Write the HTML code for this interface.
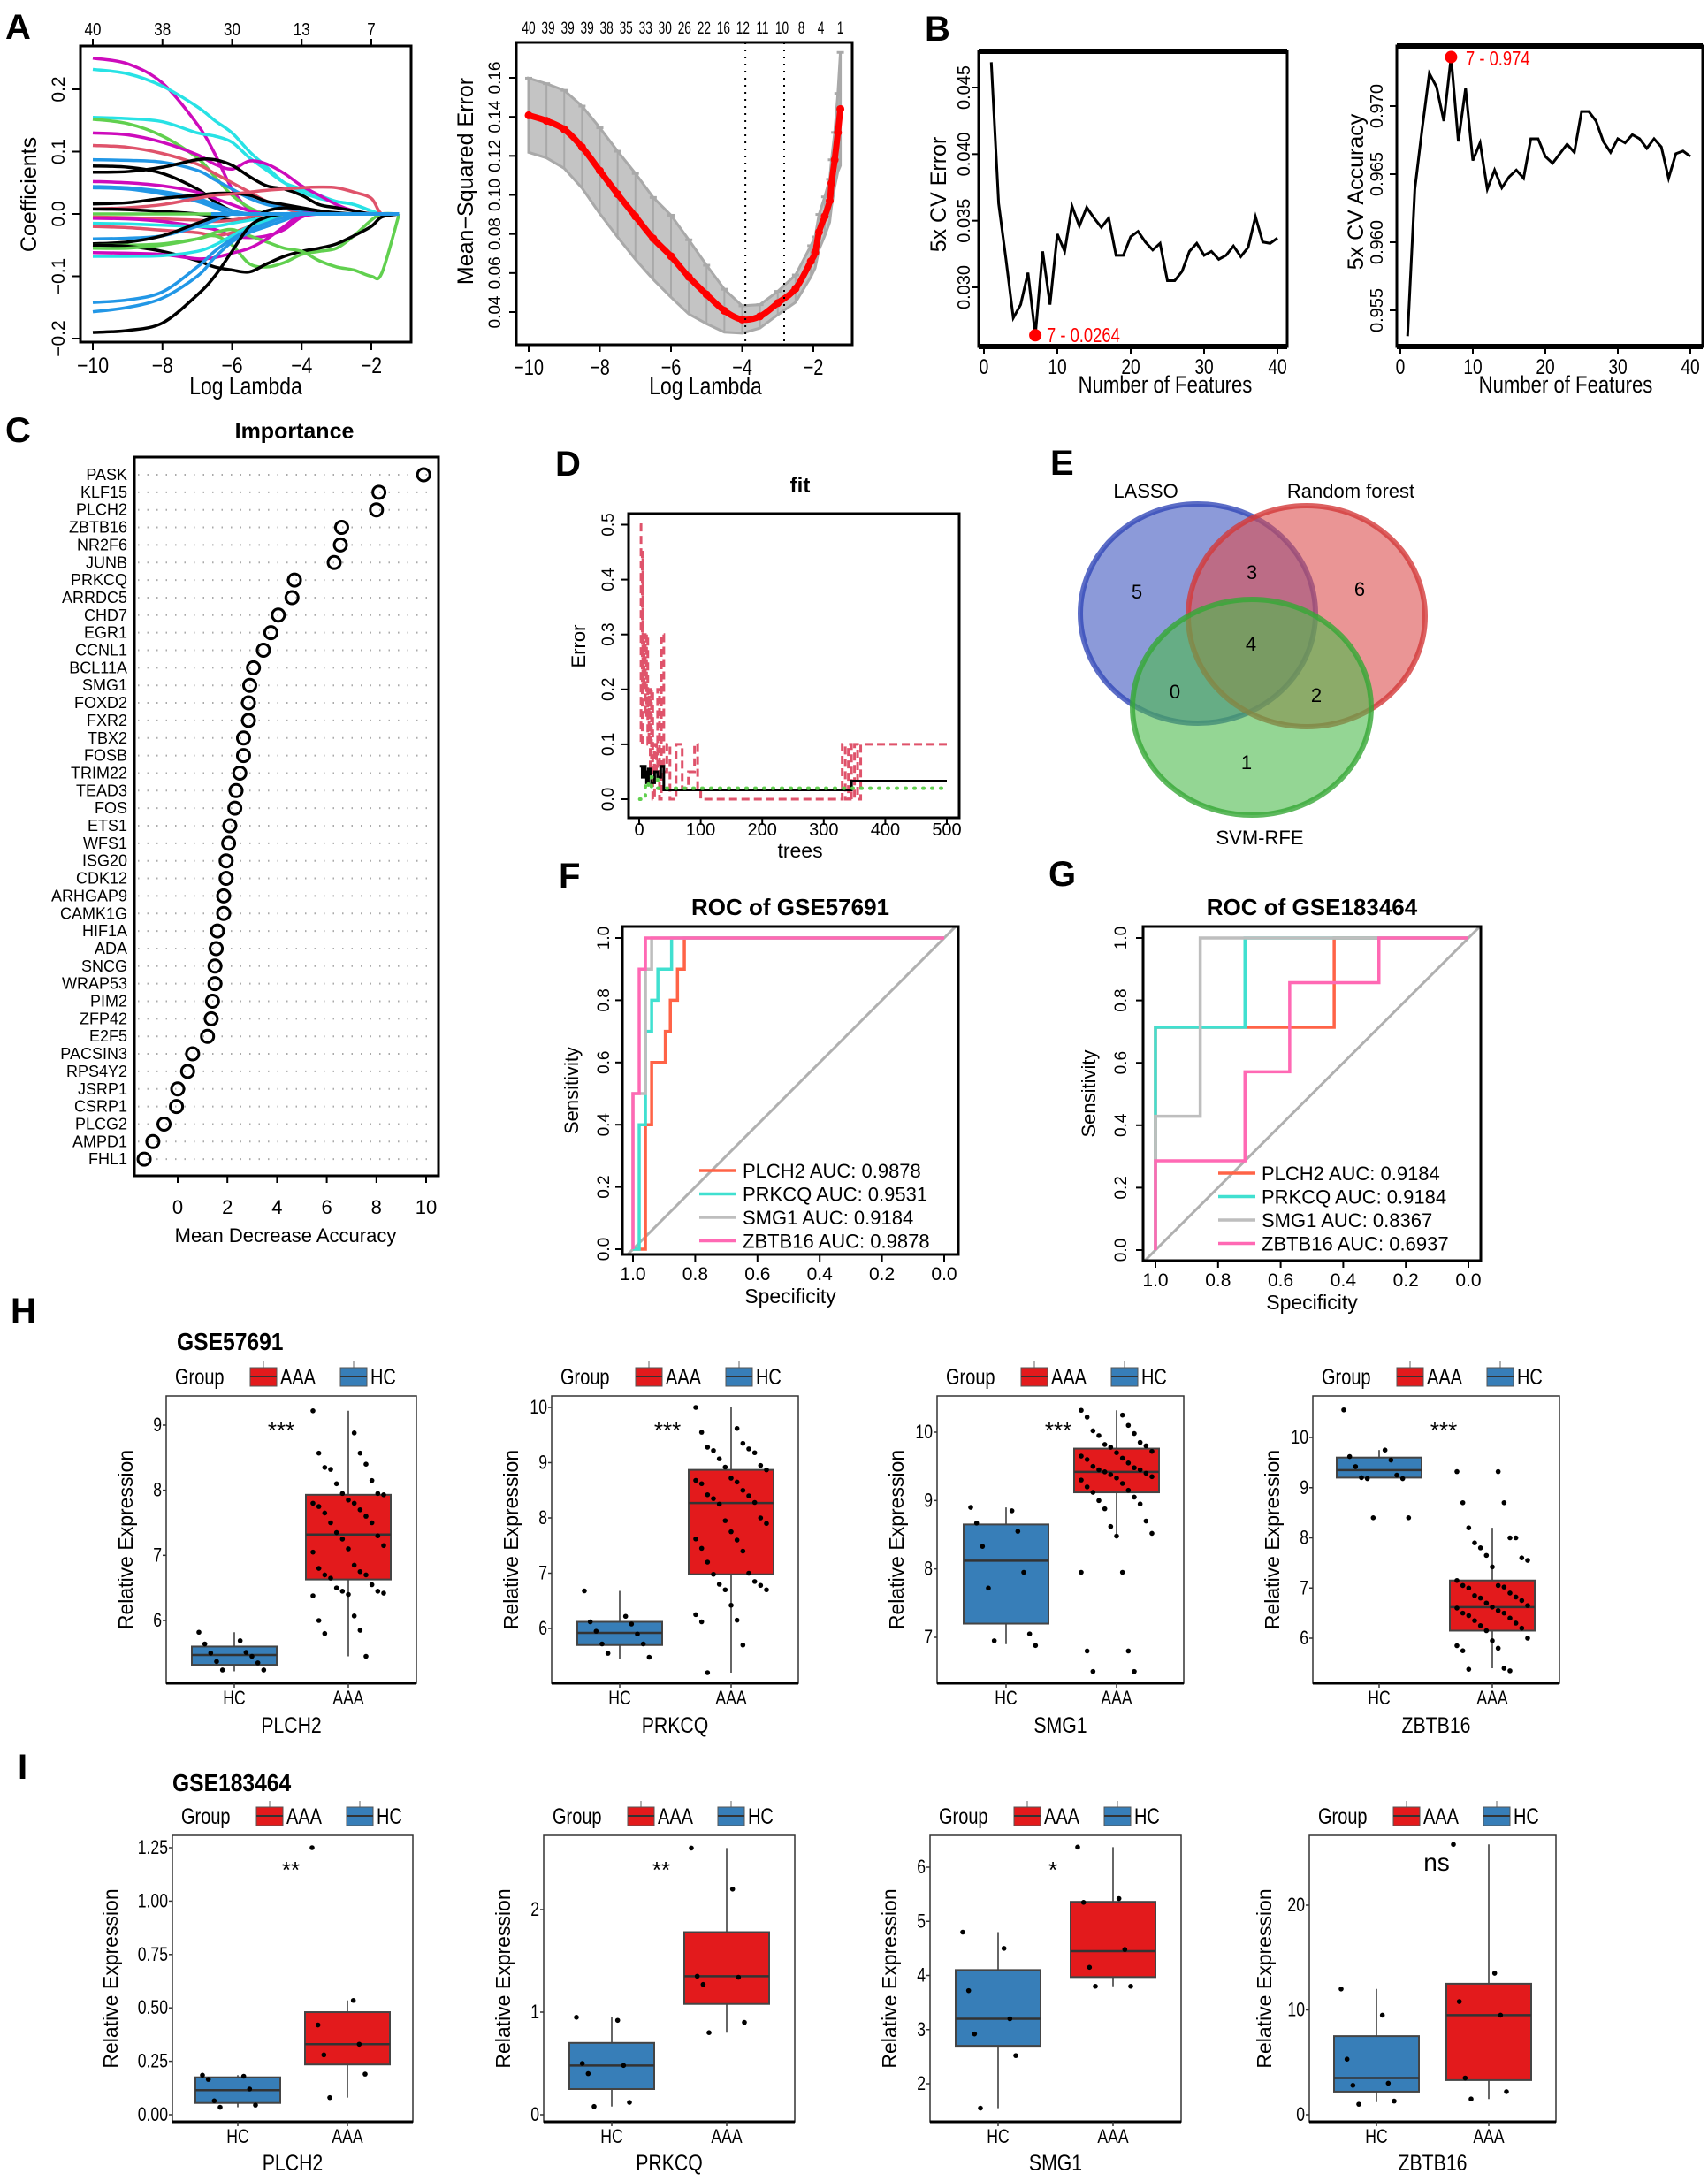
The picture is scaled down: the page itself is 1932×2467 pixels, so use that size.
<!DOCTYPE html>
<html><head><meta charset="utf-8">
<style>
html,body{margin:0;padding:0;background:#fff;}
svg{display:block;font-family:"Liberation Sans",Arial,sans-serif;}
</style></head>
<body>
<svg id="fig" width="1932" height="2467" viewBox="0 0 1932 2467" xmlns="http://www.w3.org/2000/svg">
<rect width="1932" height="2467" fill="#fff"/>
</svg>
<script>
// ===== DATA =====
const lamGrid = [-10,-9,-8,-7,-6.5,-6,-5.5,-5,-4.5,-4,-3.5,-3,-2.5,-2,-1.7,-1.2];
const lassoColors = ['#CD0BBC','#28E2E5','#28E2E5','#61D04F','#CD0BBC','#DF536B','#2297E6','#000000','#000000','#CD0BBC','#2297E6','#2297E6','#000000','#DF536B','#000000','#61D04F','#DF536B','#CD0BBC','#28E2E5','#DF536B','#2297E6','#000000','#61D04F','#000000','#61D04F','#CD0BBC','#28E2E5','#2297E6','#2297E6','#000000'];
const lassoPaths = [
[0.25,0.241,0.21,0.144,0.097,0.04,0.007,0,0,0,0,0,0,0,0,0],
[0.232,0.225,0.205,0.172,0.15,0.13,0.1,0.075,0.05,0.035,0.025,0.02,0.015,0.005,0,0],
[0.155,0.153,0.148,0.13,0.125,0.115,0.09,0.07,0.05,0.04,0.03,0.02,0.015,0.005,0,0],
[0.152,0.145,0.125,0.09,0.06,0.03,0.01,0,0,0,0,0,0,0,0,0],
[0.13,0.127,0.115,0.095,0.08,0.072,0.085,0.08,0.065,0.045,0.03,0.015,0.005,0,0,0],
[0.11,0.107,0.097,0.08,0.065,0.05,0.035,0.02,0.01,0,0,0,0,0,0,0],
[0.087,0.086,0.083,0.07,0.055,0.04,0.025,0.015,0.01,0.005,0,0,0,0,0,0],
[0.077,0.075,0.065,0.04,0.02,0.005,0,0,0,0,0,0,0,0,0,0],
[0.067,0.068,0.075,0.087,0.087,0.078,0.06,0.045,0.04,0.03,0.015,0.01,0.005,0,0,0],
[0.052,0.05,0.045,0.035,0.025,0.015,0.005,0,0,0,0,0,0,0,0,0],
[0.044,0.042,0.036,0.025,0.015,0.005,0,0,0,0,0,0,0,0,0,0],
[0.042,0.04,0.032,0.02,0.01,0,0,0,0,0,0,0,0,0,0,0],
[0.016,0.018,0.025,0.03,0.033,0.033,0.03,0.02,0.015,0.01,0.005,0,0,0,0,0],
[0.008,0.01,0.015,0.025,0.03,0.032,0.035,0.038,0.04,0.042,0.043,0.042,0.035,0.025,0,0],
[0.008,0.007,0.004,0,-0.005,-0.01,-0.008,0.005,0.01,0.008,0.005,0.002,0,0,0,0],
[0,0,0,0,0,0,0,0,0,0,0,0,0,0,0,0],
[-0.005,-0.006,-0.008,-0.01,-0.012,-0.01,-0.005,0,0,0,0,0,0,0,0,0],
[-0.007,-0.008,-0.012,-0.02,-0.025,-0.035,-0.038,-0.035,-0.025,-0.005,0,0,0,0,0,0],
[-0.015,-0.016,-0.018,-0.02,-0.02,-0.015,-0.01,-0.005,0,0,0,0,0,0,0,0],
[-0.02,-0.022,-0.026,-0.03,-0.035,-0.03,-0.02,-0.01,-0.005,0,0,0,0,0,0,0],
[-0.04,-0.039,-0.035,-0.02,-0.01,0,0,0,0,0,0,0,0,0,0,0],
[-0.048,-0.045,-0.035,-0.015,-0.005,0,0,0,0,0,0,0,0,0,0,0],
[-0.05,-0.05,-0.048,-0.04,-0.035,-0.05,-0.08,-0.085,-0.078,-0.065,-0.06,-0.055,-0.035,-0.01,0,0],
[-0.05,-0.052,-0.06,-0.075,-0.085,-0.09,-0.093,-0.08,-0.068,-0.06,-0.055,-0.048,-0.035,-0.02,-0.005,0],
[-0.055,-0.055,-0.05,-0.04,-0.03,-0.025,-0.035,-0.045,-0.055,-0.06,-0.075,-0.085,-0.09,-0.1,-0.095,0],
[-0.062,-0.063,-0.065,-0.072,-0.07,-0.063,-0.055,-0.04,-0.02,0,0,0,0,0,0,0],
[-0.068,-0.068,-0.067,-0.06,-0.05,-0.035,-0.02,-0.01,0,0,0,0,0,0,0,0],
[-0.142,-0.138,-0.125,-0.085,-0.06,-0.04,-0.025,-0.015,-0.005,0,0,0,0,0,0,0],
[-0.157,-0.15,-0.135,-0.1,-0.07,-0.045,-0.03,-0.02,-0.01,0,0,0,0,0,0,0],
[-0.19,-0.187,-0.175,-0.13,-0.1,-0.06,-0.02,-0.005,0,0,0,0,0,0,0,0]];
const a1TopLabels = ['40','38','30','13','7'];
const lamA2 = [-10,-9.5,-9,-8.5,-8,-7.5,-7,-6.5,-6,-5.5,-5,-4.5,-4,-3.5,-3,-2.5,-2.07,-1.95,-1.84,-1.68,-1.54,-1.49,-1.4,-1.31,-1.24];
const mseA2 = [0.1408,0.138,0.1336,0.1245,0.1124,0.1004,0.089,0.0777,0.0686,0.058,0.049,0.0407,0.0362,0.0378,0.0446,0.052,0.066,0.0705,0.081,0.089,0.097,0.106,0.118,0.132,0.144];
const sdA2 = [0.019,0.019,0.02,0.021,0.022,0.022,0.022,0.021,0.021,0.019,0.015,0.011,0.007,0.006,0.006,0.007,0.008,0.008,0.009,0.010,0.011,0.012,0.014,0.02,0.029];
const a2TopLabels = ['40','39','39','39','38','35','33','30','26','22','16','12','11','10','8','4','1'];
const a2VLines = [-3.91,-2.82];
const cvErr = [0.0469,0.0363,0.0321,0.0277,0.0287,0.0311,0.0264,0.0327,0.0287,0.0340,0.0327,0.0361,0.0346,0.0360,0.0352,0.0345,0.0352,0.0324,0.0324,0.0338,0.0342,0.0334,0.0328,0.0333,0.0305,0.0305,0.0312,0.0327,0.0333,0.0324,0.0327,0.0321,0.0324,0.0331,0.0323,0.0330,0.0353,0.0334,0.0333,0.0337];
const cvAcc = [0.9531,0.9639,0.9683,0.9724,0.9714,0.9689,0.9736,0.9674,0.9713,0.9660,0.9673,0.9639,0.9653,0.9640,0.9648,0.9653,0.9647,0.9676,0.9676,0.9663,0.9658,0.9665,0.9672,0.9666,0.9696,0.9696,0.9689,0.9674,0.9666,0.9676,0.9673,0.9679,0.9676,0.9669,0.9676,0.9670,0.9647,0.9665,0.9667,0.9663];
const impGenes = ['PASK','KLF15','PLCH2','ZBTB16','NR2F6','JUNB','PRKCQ','ARRDC5','CHD7','EGR1','CCNL1','BCL11A','SMG1','FOXD2','FXR2','TBX2','FOSB','TRIM22','TEAD3','FOS','ETS1','WFS1','ISG20','CDK12','ARHGAP9','CAMK1G','HIF1A','ADA','SNCG','WRAP53','PIM2','ZFP42','E2F5','PACSIN3','RPS4Y2','JSRP1','CSRP1','PLCG2','AMPD1','FHL1'];
const impVals = [9.9,8.1,8.0,6.6,6.55,6.3,4.7,4.6,4.05,3.75,3.45,3.05,2.9,2.85,2.85,2.65,2.65,2.5,2.35,2.3,2.1,2.05,1.95,1.95,1.85,1.85,1.6,1.55,1.5,1.5,1.4,1.35,1.2,0.6,0.4,0.0,-0.05,-0.55,-1.0,-1.35];
const oobT = [1,5,8,10,12,15,18,20,25,30,35,40,340,345,500];
const oobE = [0.06,0.04,0.06,0.05,0.03,0.055,0.04,0.03,0.05,0.04,0.06,0.017,0.017,0.033,0.033];
const c1T = [1,3,5,6,8,10,12,14,16,18,20,22,25,28,30,33,36,40,45,50,60,70,80,90,95,100,330,335,340,345,350,355,360,500];
const c1E = [0.5,0.1,0.45,0.2,0.3,0.15,0.3,0.1,0.2,0.05,0.2,0.0,0.1,0.05,0.2,0.0,0.3,0.05,0.1,0.0,0.1,0.02,0.05,0.1,0.02,0.0,0.1,0.0,0.1,0.0,0.1,0.0,0.1,0.1];
const c2T = [1,10,15,20,30,40,500];
const c2E = [0.0,0.03,0.02,0.04,0.02,0.02,0.02];
const rocNames = ['PLCH2','PRKCQ','SMG1','ZBTB16'];
const rocColors = ['#FF6347','#40E0D0','#BEBEBE','#FF69B4'];
const aucF = ['0.9878','0.9531','0.9184','0.9878'];
const aucG = ['0.9184','0.9184','0.8367','0.6937'];
const rocFSpec = [[0.96,0.94,0.896,0.88,0.857,0.835],[0.98,0.96,0.94,0.92,0.876],[1.0,0.96,0.94],[1.0,0.98,0.96]];
const rocFSens = [[0.4,0.6,0.7,0.8,0.9,1.0],[0.4,0.7,0.8,0.9,1.0],[0.5,0.9,1.0],[0.5,0.9,1.0]];
const rocGSpec = [[1.0,0.429],[1.0,0.714],[1.0,0.857],[1.0,0.714,0.571,0.286]];
const rocGSens = [[0.714,1.0],[0.714,1.0],[0.429,1.0],[0.286,0.571,0.857,1.0]];
const vennCounts = ['5','3','6','4','0','2','1'];
const hGenes = ['PLCH2','PRKCQ','SMG1','ZBTB16'];
const hSig = ['***','***','***','***'];
const hTicks = [[6,7,8,9],[6,7,8,9,10],[7,8,9,10],[6,7,8,9,10]];
const hHCStats = [[5.22,5.32,5.47,5.6,5.82],[5.45,5.7,5.92,6.12,6.68],[6.9,7.2,8.12,8.65,8.9],[9.2,9.2,9.35,9.6,9.75]];
const hAAAStats = [[5.45,6.63,7.32,7.93,9.22],[5.2,6.98,8.27,8.87,10.0],[8.48,9.12,9.42,9.76,10.32],[5.4,6.15,6.62,7.15,8.2]];
const hHCPts = [[5.82,5.69,5.64,5.51,5.5,5.45,5.37,5.35,5.24,5.24],[6.68,6.22,6.12,6.08,5.95,5.9,5.72,5.72,5.55,5.48],[8.9,8.85,8.67,8.55,8.33,7.95,7.72,7.05,6.95,6.88],[10.55,9.75,9.62,9.55,9.42,9.25,9.2,9.18,9.18,8.4,8.4]];
const hAAAPts = [
[9.22,8.88,8.57,8.57,8.35,8.4,8.32,8.15,8.1,7.95,7.95,7.93,7.85,7.8,7.8,7.75,7.7,7.65,7.6,7.5,7.5,7.35,7.3,7.25,7.15,7.1,7.05,6.85,6.8,6.75,6.7,6.7,6.65,6.55,6.5,6.45,6.45,6.42,6.4,6.38,6.07,6.0,5.85,5.8,5.45],
[10.0,9.62,9.55,9.35,9.28,9.25,9.22,9.18,9.07,8.95,8.92,8.87,8.72,8.68,8.65,8.62,8.5,8.42,8.4,8.35,8.28,8.25,8.0,7.95,7.9,7.75,7.62,7.6,7.45,7.4,7.2,7.0,6.98,6.85,6.8,6.78,6.7,6.7,6.42,6.25,6.15,6.12,5.7,5.2],
[10.32,10.25,10.22,10.1,10.02,9.98,9.95,9.85,9.82,9.8,9.78,9.72,9.7,9.65,9.62,9.6,9.55,9.5,9.48,9.45,9.45,9.42,9.4,9.38,9.35,9.33,9.3,9.25,9.2,9.15,9.12,9.05,9.0,8.95,8.88,8.7,8.62,8.52,8.48,7.95,7.95,6.8,6.8,6.5,6.5],
[9.32,9.32,8.7,8.7,8.2,8.0,7.9,8.0,7.8,7.6,7.65,7.55,7.42,7.15,7.05,7.05,7.02,7.0,6.9,6.85,6.82,6.8,6.75,6.7,6.65,6.62,6.6,6.55,6.5,6.5,6.45,6.4,6.35,6.3,6.25,6.2,6.15,6.0,5.95,5.85,5.8,5.75,5.4,5.38,5.35]];
const iSig = ['**','**','*','ns'];
const iTicks = [[0,0.25,0.5,0.75,1.0,1.25],[0,1,2],[2,3,4,5,6],[0,10,20]];
const iTickLabels = [['0.00','0.25','0.50','0.75','1.00','1.25'],['0','1','2'],['2','3','4','5','6'],['0','10','20']];
const iHCStats = [[0.035,0.055,0.115,0.175,0.185],[0.08,0.25,0.48,0.7,0.95],[1.55,2.7,3.2,4.1,4.8],[1.2,2.2,3.5,7.5,12]];
const iAAAStats = [[0.08,0.235,0.33,0.48,0.535],[0.8,1.08,1.35,1.78,2.6],[3.8,3.97,4.45,5.36,6.37],[1.5,3.3,9.5,12.5,25.8]];
const iHCPts = [[0.185,0.18,0.165,0.12,0.065,0.045,0.035],[0.95,0.92,0.5,0.48,0.4,0.12,0.08],[4.8,4.5,3.72,3.2,2.92,2.52,1.55],[12,9.5,5.3,3.0,2.8,1.3,1.0]];
const iAAAPts = [[1.25,0.535,0.42,0.33,0.28,0.19,0.08],[2.6,2.2,1.35,1.34,1.27,0.9,0.8],[6.37,5.42,5.35,4.48,4.15,3.8,3.8],[25.8,13.5,10.8,9.5,3.5,2.2,1.5]];

// ===== HELPERS =====
const NS='http://www.w3.org/2000/svg';
const svg=document.getElementById('fig');
function mk(tag,a,p,name){
  const e=document.createElementNS(NS,tag);
  for(const k in a) e.setAttribute(k,a[k]);
  
  
  (p||svg).appendChild(e);
  return e;
}
function T(s,x,y,size,o,name,p){
  o=o||{};
  const e=mk('text',{'font-size':size,'text-anchor':o.a||'start','font-weight':o.w||'normal',fill:o.f||'#000',
    transform:`translate(${x},${y}) rotate(${o.r||0}) scale(${o.sx||1},1)`},p,name);
  e.textContent=s;return e;
}
function lin(d0,d1,r0,r1){return v=>r0+(v-d0)*(r1-r0)/(d1-d0);}
function G(name){return mk('g',{},svg,name);}
function line(x1,y1,x2,y2,st,w,p,name,extra){const a={x1,y1,x2,y2,stroke:st,'stroke-width':w};Object.assign(a,extra||{});return mk('line',a,p,name);}
function smooth(pts){
  let d=`M${pts[0][0]},${pts[0][1]}`;
  for(let i=0;i<pts.length-1;i++){
    const p0=pts[Math.max(0,i-1)],p1=pts[i],p2=pts[i+1],p3=pts[Math.min(pts.length-1,i+2)];
    const c1=[p1[0]+(p2[0]-p0[0])/6,p1[1]+(p2[1]-p0[1])/6],c2=[p2[0]-(p3[0]-p1[0])/6,p2[1]-(p3[1]-p1[1])/6];
    d+=` C${c1[0]},${c1[1]} ${c2[0]},${c2[1]} ${p2[0]},${p2[1]}`;
  }
  return d;
}
function stepPath(T_,E_,xs,ys){let d='';for(let i=0;i<T_.length;i++){const x=xs(T_[i]),y=ys(E_[i]);if(i===0)d=`M${x},${y}`;else d+=` H${x} V${y}`;}return d;}
function clip(id,x,y,w,h){const defs=mk('defs',{},svg,'clip-defs');const c=mk('clipPath',{id},defs,'clip-path');mk('rect',{x,y,width:w,height:h},c,'clip-rect');}

// Panel letters
[['A',6,44],['B',1046,46],['C',6,500],['D',628,538],['E',1188,537],['F',632,1004],['G',1186,1002],['H',12,1496],['I',20,2012]].forEach(l=>{
  T(l[0],l[1],l[2],40,{w:'bold'},'panel-label-'+l[0].toLowerCase());
});

// ===== A1 LASSO coefficient paths =====
(function(){
  const g=G('lasso-coef-plot');
  const xs=lin(-10,-2,105,420), ys=lin(0,0.2,242,101);
  clip('cA1',91,52,374,335);
  const lg=mk('g',{'clip-path':'url(#cA1)'},g,'coef-lines');
  lassoPaths.forEach((vals,i)=>{
    const pts=vals.map((v,j)=>[xs(lamGrid[j]),ys(v)]);
    mk('path',{d:smooth(pts),fill:'none',stroke:lassoColors[i],'stroke-width':3.5},lg,'coef-path-'+(i+1));
  });
  line(xs(-6.6),ys(0),xs(-1.2),ys(0),'#2297E6',4,lg,'coef-zero-line');
  mk('rect',{x:91,y:52,width:374,height:335,fill:'none',stroke:'#000','stroke-width':3},g,'plot-frame');
  [-10,-8,-6,-4,-2].forEach((v,i)=>{
    line(xs(v),387,xs(v),396,'#000',2,g,'x-tick');
    T(String(v).replace('-','−'),xs(v),422,25,{a:'middle',sx:0.85},'x-tick-label',g);
    line(xs(v),52,xs(v),44,'#000',2,g,'top-tick');
    T(a1TopLabels[i],xs(v),40,20,{a:'middle',sx:0.85},'top-tick-label',g);
  });
  [-0.2,-0.1,0,0.1,0.2].forEach(v=>{
    line(91,ys(v),82,ys(v),'#000',2,g,'y-tick');
    T(v.toFixed(1).replace('-','−'),73,ys(v),21,{a:'middle',r:-90},'y-tick-label',g);
  });
  T('Coefficients',41,220,25,{a:'middle',r:-90},'y-axis-title',g);
  T('Log Lambda',278,446,28,{a:'middle',sx:0.82},'x-axis-title',g);
})();

// ===== A2 CV MSE =====
(function(){
  const g=G('lasso-cv-plot');
  const xs=lin(-10,-2,598,920), ys=lin(0.04,0.16,353,88);
  clip('cA2',584,48,380,342);
  const pg=mk('g',{'clip-path':'url(#cA2)'},g,'cv-marks');
  let up='',lo='';
  lamA2.forEach((l,i)=>{up+=(i?' L':'M')+xs(l)+','+ys(mseA2[i]+sdA2[i]);});
  for(let i=lamA2.length-1;i>=0;i--){lo+=' L'+xs(lamA2[i])+','+ys(mseA2[i]-sdA2[i]);}
  mk('path',{d:up+lo+' Z',fill:'#c4c4c4',stroke:'#a9a9a9','stroke-width':3},pg,'error-band');
  lamA2.forEach((l,i)=>{
    line(xs(l),ys(mseA2[i]+sdA2[i]),xs(l),ys(mseA2[i]-sdA2[i]),'#a9a9a9',2,pg,'error-bar');
    line(xs(l)-4,ys(mseA2[i]+sdA2[i]),xs(l)+4,ys(mseA2[i]+sdA2[i]),'#a9a9a9',3,pg,'error-cap');
  });
  mk('path',{d:smooth(lamA2.map((l,i)=>[xs(l),ys(mseA2[i])])),fill:'none',stroke:'#ff0000','stroke-width':7},pg,'mse-curve');
  lamA2.forEach((l,i)=>{mk('circle',{cx:xs(l),cy:ys(mseA2[i]),r:4.5,fill:'#ff0000'},pg,'mse-point');});
  a2VLines.forEach(l=>{line(xs(l),48,xs(l),390,'#000',2,g,'lambda-vline',{'stroke-dasharray':'2,6'});});
  mk('rect',{x:584,y:48,width:380,height:342,fill:'none',stroke:'#000','stroke-width':3},g,'plot-frame');
  [-10,-8,-6,-4,-2].forEach(v=>{
    line(xs(v),390,xs(v),398,'#000',2,g,'x-tick');
    T(String(v).replace('-','−'),xs(v),424,25,{a:'middle',sx:0.8},'x-tick-label',g);
  });
  a2TopLabels.forEach((s,i)=>{
    const l=-10+i*(8.76/16);
    T(s,xs(l),38,19,{a:'middle',sx:0.72},'top-tick-label',g);
  });
  [0.04,0.06,0.08,0.10,0.12,0.14,0.16].forEach(v=>{
    line(584,ys(v),576,ys(v),'#000',2,g,'y-tick');
    T(v.toFixed(2),566,ys(v),19,{a:'middle',r:-90},'y-tick-label',g);
  });
  T('Mean−Squared Error',535,205,25,{a:'middle',r:-90},'y-axis-title',g);
  T('Log Lambda',798,446,28,{a:'middle',sx:0.82},'x-axis-title',g);
})();

// ===== B1/B2 SVM-RFE =====
function rfePanel(name,vals,x0,x1,y0,y1,xs,ys,yt,ylab,tickX,labX,best,lblTxt,lblX,lblY,xTitle){
  const g=G(name);
  mk('rect',{x:x0,y:y0,width:x1-x0,height:y1-y0,fill:'none',stroke:'#000','stroke-width':3},g,'plot-frame');
  line(x0,y0,x1,y0,'#000',6,g,'frame-top');line(x0,y1,x1,y1,'#000',6,g,'frame-bottom');
  mk('polyline',{points:vals.map((v,i)=>xs(i+1)+','+ys(v)).join(' '),fill:'none',stroke:'#000','stroke-width':3},g,'cv-line');
  mk('circle',{cx:xs(best+1),cy:ys(vals[best]),r:7,fill:'#ff0000'},g,'best-point');
  T(lblTxt,lblX,lblY,23,{f:'#ff0000',sx:0.8},'best-label',g);
  [0,10,20,30,40].forEach(v=>{line(xs(v),y1,xs(v),y1+8,'#000',2,g,'x-tick');T(String(v),xs(v),y1+31,24,{a:'middle',sx:0.8},'x-tick-label',g);});
  yt.forEach(v=>{line(x0,ys(v),x0-8,ys(v),'#000',2,g,'y-tick');T(v.toFixed(3),tickX,ys(v),20,{a:'middle',r:-90},'y-tick-label',g);});
  T(ylab,labX,(y0+y1)/2-5,25,{a:'middle',r:-90},'y-axis-title',g);
  T('Number of Features',xTitle,y1+52,27,{a:'middle',sx:0.82},'x-axis-title',g);
}
rfePanel('cv-error-plot',cvErr,1107,1456,58,392,lin(0,40,1113,1445),lin(0.030,0.045,325,99),[0.030,0.035,0.040,0.045],'5x CV Error',1097,1070,6,'7 - 0.0264',1184,387,1318);
rfePanel('cv-accuracy-plot',cvAcc,1580,1926,52,392,lin(0,40,1584,1912),lin(0.955,0.970,351,120),[0.955,0.960,0.965,0.970],'5x CV Accuracy',1564,1542,6,'7 - 0.974',1658,74,1771);

// ===== C importance =====
(function(){
  const g=G('importance-plot');
  const xs=lin(0,10,201,482);
  T('Importance',333,496,25,{a:'middle',w:'bold'},'plot-title',g);
  impGenes.forEach((gn,i)=>{
    const y=537+i*19.85;
    line(156,y,492,y,'#aaa',2,g,'row-gridline',{'stroke-dasharray':'1.5,9'});
    T(gn,144,y+6,18,{a:'end'},'gene-label',g);
    mk('circle',{cx:xs(impVals[i]),cy:y,r:7,fill:'none',stroke:'#000','stroke-width':3},g,'importance-point');
  });
  mk('rect',{x:152,y:517,width:344,height:813,fill:'none',stroke:'#000','stroke-width':3},g,'plot-frame');
  [0,2,4,6,8,10].forEach(v=>{line(xs(v),1330,xs(v),1338,'#000',2,g,'x-tick');T(String(v),xs(v),1373,22,{a:'middle'},'x-tick-label',g);});
  T('Mean Decrease Accuracy',323,1405,22,{a:'middle'},'x-axis-title',g);
})();

// ===== D random forest error =====
(function(){
  const g=G('rf-error-plot');
  const xs=lin(0,500,723,1071), ys=lin(0,0.5,904,593.5);
  T('fit',905,557,24,{a:'middle',w:'bold'},'plot-title',g);
  clip('cD',711,581,374,344);
  const pg=mk('g',{'clip-path':'url(#cD)'},g,'error-lines');
  mk('path',{d:stepPath(c1T,c1E,xs,ys),fill:'none',stroke:'#DF536B','stroke-width':3,'stroke-dasharray':'9,5'},pg,'class-error-aaa');
  mk('path',{d:stepPath(oobT,oobE,xs,ys),fill:'none',stroke:'#000','stroke-width':3},pg,'oob-error');
  mk('path',{d:stepPath(c2T,c2E,xs,ys),fill:'none',stroke:'#61D04F','stroke-width':4,'stroke-dasharray':'1,9','stroke-linecap':'round'},pg,'class-error-hc');
  mk('rect',{x:711,y:581,width:374,height:344,fill:'none',stroke:'#000','stroke-width':3},g,'plot-frame');
  [0,100,200,300,400,500].forEach(v=>{line(xs(v),925,xs(v),933,'#000',2,g,'x-tick');T(String(v),xs(v),945,20,{a:'middle'},'x-tick-label',g);});
  [0,0.1,0.2,0.3,0.4,0.5].forEach(v=>{line(711,ys(v),703,ys(v),'#000',2,g,'y-tick');T(v.toFixed(1),694,ys(v),19,{a:'middle',r:-90},'y-tick-label',g);});
  T('Error',662,731,22,{a:'middle',r:-90},'y-axis-title',g);
  T('trees',905,970,23,{a:'middle'},'x-axis-title',g);
})();

// ===== E Venn =====
(function(){
  const g=G('venn-diagram');
  mk('ellipse',{cx:1355,cy:694,rx:133,ry:124,fill:'#3f56c0','fill-opacity':0.6,stroke:'#3348b8','stroke-opacity':0.8,'stroke-width':6},g,'venn-lasso');
  mk('ellipse',{cx:1478,cy:697,rx:134,ry:125,fill:'#dc4e4e','fill-opacity':0.6,stroke:'#d33a3a','stroke-opacity':0.8,'stroke-width':6},g,'venn-random-forest');
  mk('ellipse',{cx:1416,cy:800,rx:135,ry:122,fill:'#4cba4c','fill-opacity':0.6,stroke:'#36a836','stroke-opacity':0.8,'stroke-width':6},g,'venn-svm-rfe');
  T('LASSO',1296,563,22,{a:'middle'},'set-label-lasso',g);
  T('Random forest',1528,563,22,{a:'middle'},'set-label-random-forest',g);
  T('SVM-RFE',1425,955,22,{a:'middle'},'set-label-svm-rfe',g);
  [[1286,669],[1416,647],[1538,666],[1415,728],[1329,782],[1489,786],[1410,862]].forEach((p,i)=>{
    T(vennCounts[i],p[0],p[1]+8,22,{a:'middle'},'venn-count',g);
  });
})();

// ===== F/G ROC =====
function rocPanel(name,title,x0,x1,y0,y1,xs,ys,spec,sens,auc,tickLabX,labX,legX,legY){
  const g=G(name);
  T(title,(x0+x1)/2,y0-13,26,{a:'middle',w:'bold'},'plot-title',g);
  clip('c'+name,x0,y0,x1-x0,y1-y0);
  const pg=mk('g',{'clip-path':'url(#c'+name+')'},g,'roc-curves');
  line(xs(1.05),ys(-0.05),xs(-0.05),ys(1.05),'#b0b0b0',3,pg,'diagonal-reference');
  spec.forEach((ss,k)=>{
    let d=`M${xs(1)},${ys(0)}`;let prev=0;
    ss.forEach((s,j)=>{d+=` L${xs(s)},${ys(prev)} L${xs(s)},${ys(sens[k][j])}`;prev=sens[k][j];});
    d+=` L${xs(0)},${ys(1)}`;
    mk('path',{d,fill:'none',stroke:rocColors[k],'stroke-width':3.5},pg,'roc-'+rocNames[k].toLowerCase());
  });
  mk('rect',{x:x0,y:y0,width:x1-x0,height:y1-y0,fill:'none',stroke:'#000','stroke-width':3},g,'plot-frame');
  [1,0.8,0.6,0.4,0.2,0].forEach(v=>{line(xs(v),y1,xs(v),y1+8,'#000',2,g,'x-tick');T(v.toFixed(1),xs(v),y1+29,21,{a:'middle'},'x-tick-label',g);});
  [0,0.2,0.4,0.6,0.8,1].forEach(v=>{line(x0,ys(v),x0-8,ys(v),'#000',2,g,'y-tick');T(v.toFixed(1),tickLabX,ys(v),19,{a:'middle',r:-90},'y-tick-label',g);});
  T('Sensitivity',labX,(y0+y1)/2,22,{a:'middle',r:-90},'y-axis-title',g);
  T('Specificity',(x0+x1)/2,y1+55,23,{a:'middle'},'x-axis-title',g);
  rocNames.forEach((n,k)=>{
    const y=legY+k*26.5;
    line(legX,y,legX+42,y,rocColors[k],3.5,g,'legend-swatch');
    T(n+' AUC: '+auc[k],legX+49,y+8,22,{},'legend-entry',g);
  });
}
rocPanel('roc-gse57691','ROC of GSE57691',704,1084,1048,1419,lin(1,0,716,1068),lin(0,1,1413,1061),rocFSpec,rocFSens,aucF,689,654,791,1324);
rocPanel('roc-gse183464','ROC of GSE183464',1293,1675,1048,1426,lin(1,0,1307,1661),lin(0,1,1414,1061),rocGSpec,rocGSens,aucG,1274,1239,1378,1327);

// ===== Box plots =====
function boxPanel(name,x0,x1,y0,y1,v0,p0,v1,p1,ticks,tickLabels,hcX,aaaX,hcSt,aaaSt,hcPts,aaaPts,gene,sig,sigX,sigY,sigSize,labOff,legY,xlabY,geneY){
  const g=G(name);
  const ys=lin(v0,v1,p0,p1);
  T('Group',x0+10,legY+9,25,{sx:0.8},'legend-title',g);
  [['AAA','#E31A1C',x0+95],['HC','#377EB8',x0+197]].forEach(L=>{
    line(L[2]+15,legY-17,L[2]+15,legY-10,'#999',1.5,g,'legend-whisker');
    mk('rect',{x:L[2],y:legY-10,width:30,height:21,fill:L[1],stroke:'#555','stroke-width':1},g,'legend-key-'+L[0].toLowerCase());
    line(L[2],legY,L[2]+30,legY,'#333',2,g,'legend-median');
    T(L[0],L[2]+34,legY+9,25,{sx:0.8},'legend-label-'+L[0].toLowerCase(),g);
  });
  mk('rect',{x:x0,y:y0,width:x1-x0,height:y1-y0,fill:'#fff',stroke:'#333','stroke-width':1.5},g,'plot-frame');
  line(x0,y1,x1,y1,'#000',3,g,'x-axis-line');
  [[hcX,hcSt,'#377EB8','hc'],[aaaX,aaaSt,'#E31A1C','aaa']].forEach(B=>{
    const cx=B[0],s=B[1];
    line(cx,ys(s[0]),cx,ys(s[4]),'#333',1.5,g,'whisker-'+B[3]);
    mk('rect',{x:cx-48,y:ys(s[3]),width:96,height:ys(s[1])-ys(s[3]),fill:B[2],stroke:'#444','stroke-width':2},g,'box-'+B[3]);
    line(cx-48,ys(s[2]),cx+48,ys(s[2]),'#333',2.5,g,'median-'+B[3]);
  });
  [[hcX,hcPts,'hc'],[aaaX,aaaPts,'aaa']].forEach(P=>{
    P[1].forEach((v,i)=>{
      const off=(((i*7)%13)-6)/6*40;
      mk('circle',{cx:P[0]+off,cy:ys(v),r:2.8,fill:'#000'},g,'point-'+P[2]);
    });
  });
  ticks.forEach((v,i)=>{line(x0,ys(v),x0-4,ys(v),'#333',1.5,g,'y-tick');T(tickLabels[i],x0-5,ys(v)+7,22,{a:'end',sx:0.8},'y-tick-label',g);});
  [[hcX,'HC'],[aaaX,'AAA']].forEach(L=>{line(L[0],y1,L[0],y1+5,'#333',1.5,g,'x-tick');T(L[1],L[0],xlabY,22,{a:'middle',sx:0.8},'x-tick-label',g);});
  T('Relative Expression',x0-labOff,(y0+y1)/2,23,{a:'middle',r:-90},'y-axis-title',g);
  T(gene,(x0+x1)/2,geneY,25,{a:'middle',sx:0.85},'gene-label',g);
  T(sig,sigX,sigY,sigSize,{a:'middle'},'significance-label',g);
}
T('GSE57691',200,1527,28,{w:'bold',sx:0.88},'dataset-title-gse57691');
T('GSE183464',195,2026,28,{w:'bold',sx:0.88},'dataset-title-gse183464');
const hGeo=[[188,471,9,1612,6,1833,265,394,318],[624,903,10,1592,6,1842,701,827,755],[1060,1339,10,1620,7,1852,1138,1263,1197],[1485,1764,10,1626,6,1853,1560,1688,1633]];
hGeo.forEach((q,i)=>{
  boxPanel('box-gse57691-'+hGenes[i].toLowerCase(),q[0],q[1],1579,1904,q[2],q[3],q[4],q[5],hTicks[i],hTicks[i].map(String),q[6],q[7],hHCStats[i],hAAAStats[i],hHCPts[i],hAAAPts[i],hGenes[i],hSig[i],q[8],1627,26,38,1557,1928,1960);
});
const iGeo=[[195,467,1.25,2090,0,2392,269,393,329,62],[615,899,2,2160,0,2392,692,822,748,38],[1052,1336,6,2112,2,2357,1129,1259,1191,38],[1481,1760,20,2155,0,2392,1557,1684,1625,43]];
iGeo.forEach((q,i)=>{
  boxPanel('box-gse183464-'+hGenes[i].toLowerCase(),q[0],q[1],2076,2400,q[2],q[3],q[4],q[5],iTicks[i],iTickLabels[i],q[6],q[7],iHCStats[i],iAAAStats[i],iHCPts[i],iAAAPts[i],hGenes[i],iSig[i],q[8],i===3?2116:2124,i===3?28:26,q[9],2054,2424,2455);
});
</script>
</body></html>
